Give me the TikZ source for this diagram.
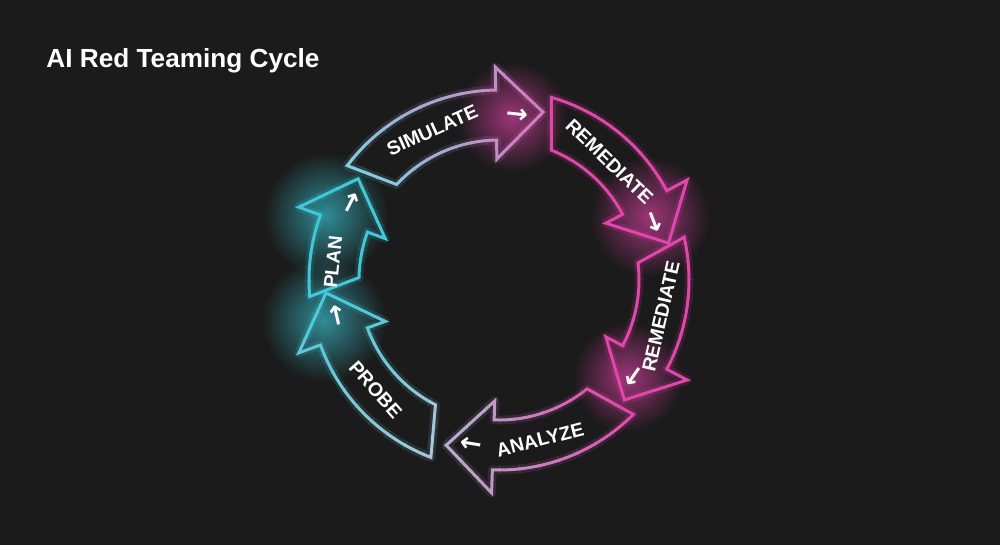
\documentclass[tikz,border=0pt]{standalone}
\usepackage{fontspec}
\setmainfont{Liberation Sans}
\newfontfamily\symfont{DejaVu Sans}
\usetikzlibrary{calc, fadings}
\definecolor{cbg}{HTML}{1B1B1B}
\definecolor{ccyan}{HTML}{3CCAD9}
\definecolor{cpale}{HTML}{A6CADB}
\definecolor{csky}{HTML}{80D0E2}
\definecolor{cpink}{HTML}{E444AC}
\definecolor{crose}{HTML}{E070BC}
\definecolor{clilac}{HTML}{B4B8D2}
\tikzfading[name=glowfade, inner color=transparent!35, outer color=transparent!100]
\tikzset{
  every picture/.style={line width=1.7pt},
  neon/.style={draw=#1, line join=miter, preaction={draw=#1, line width=5pt, draw opacity=0.13, line join=round}},
  label/.style={text=white, font=\bfseries\fontsize{11}{12}\selectfont, inner sep=0pt},
  tick/.style={text=white, font=\symfont\bfseries\fontsize{15}{15}\selectfont, inner sep=0pt},
  glow/.style={fill=#1, path fading=glowfade},
}

\begin{document}
\begin{tikzpicture}[x=0.02cm, y=0.02cm]
  \fill[cbg] (0,0) rectangle (1000,545);
  \useasboundingbox (0,0) rectangle (1000,545);
  \coordinate (C) at (499,265);
  \newcommand{\arrowpath}[2]{% tail angle, head angle
    ($(C)+(#1+6:190)$) arc[start angle=#1+6, end angle=#2, radius=190]
    -- ($(C)+(#2:213)$) -- ($(C)+(#2:167)+(#2-90:47)$) -- ($(C)+(#2:121)$)
    -- ($(C)+(#2:140)$) arc[start angle=#2, end angle=#1, radius=140] -- cycle}
  \newcommand{\cycarrow}[4]{% tail angle, head angle, tail colour, head colour
    \foreach \k in {0,...,11} {
      \pgfmathsetmacro{\wa}{#1+10-\k*(#1+32-#2)/12}
      \pgfmathsetmacro{\wb}{\wa-(#1+32-#2)/12-0.3}
      \pgfmathtruncatemacro{\p}{100*\k/11}
      \begin{scope}
        \clip (C) -- ($(C)+(\wa:330)$) -- ($(C)+(\wb:330)$) -- cycle;
        \draw[neon=#4!\p!#3] \arrowpath{#1}{#2};
      \end{scope}
    }
  }
  % glows behind the heads
  \fill[glow=ccyan] (326,330) circle (62);
  \fill[glow=ccyan] (324,225) circle (62);
  \fill[glow=cpink] (512,428) circle (55);
  \fill[glow=cpink] (650,328) circle (60);
  \fill[glow=cpink] (628,168) circle (55);
  % the six arrows of the cycle
  \cycarrow{137}{91}{csky}{crose}
  \cycarrow{68}{28}{cpink}{cpink}
  \cycarrow{7}{-28}{cpink}{cpink}
  \cycarrow{-51}{-92}{cpink}{clilac}
  \cycarrow{243}{200}{cpale}{ccyan}
  \cycarrow{179}{160}{ccyan}{ccyan}
  % labels
  \node[label, rotate=24] (simulate) at ($(C)+(114:164)$) {SIMULATE};
  \node[label, rotate=-44] (remedA) at ($(C)+(47:162)$) {REMEDIATE};
  \node[label, rotate=77] (remedB) at ($(C)+(-12.7:166)$) {REMEDIATE};
  \node[label, rotate=14.4] (analyze) at ($(C)+(-75.6:165)$) {ANALYZE};
  \node[label, rotate=-48.4] (probe) at ($(C)+(221.6:165)$) {PROBE};
  \begin{scope}
    \clip \arrowpath{179}{160};
    \node[label, rotate=83.8] (plan) at ($(C)+(173.8:167)$) {PLAN};
  \end{scope}
  % small arrows in the heads
  \foreach \h [count=\i] in {91, 28, -28, -92, 200, 160} {
    \node[tick, rotate=\h-97] (tick\i) at ($(C)+(\h-7.5:165)$) {→};
  }
  \node[anchor=base west, text=white, font=\bfseries\fontsize{14.9}{17}\selectfont, inner sep=0pt] (title) at (45,477) {AI Red Teaming Cycle};
\end{tikzpicture}
\end{document}
